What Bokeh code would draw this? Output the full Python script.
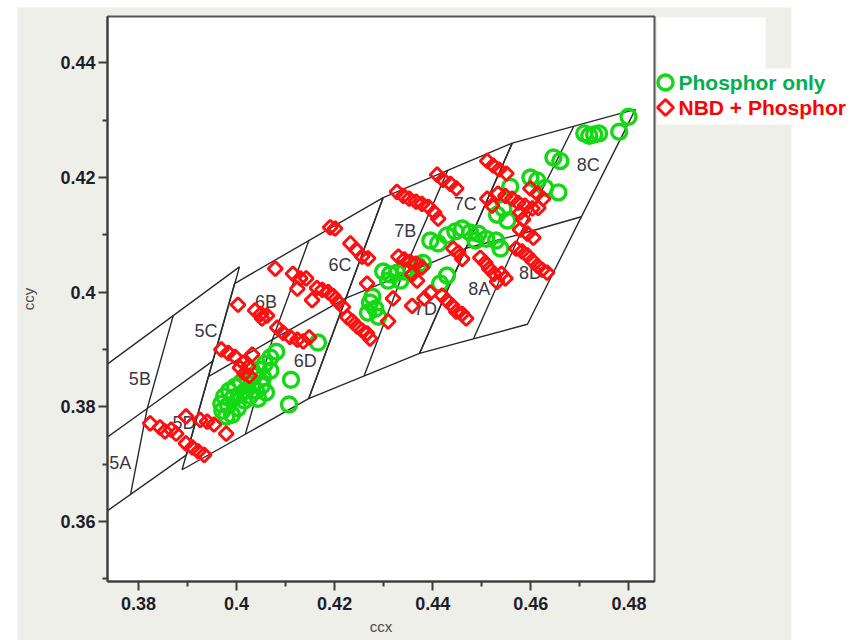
import numpy as np
from bokeh.plotting import figure
from bokeh.models import FixedTicker
from bokeh.core.properties import value
from bokeh.embed import file_html
from bokeh.resources import INLINE

# ---------------- data ----------------
X_TICKS = [0.38, 0.40, 0.42, 0.44, 0.46, 0.48]
X_TICK_LABELS = ["0.38", "0.4", "0.42", "0.44", "0.46", "0.48"]
X_MINOR = [0.37, 0.39, 0.41, 0.43, 0.45, 0.47, 0.49]
Y_TICKS = [0.36, 0.38, 0.40, 0.42, 0.44]
Y_TICK_LABELS = ["0.36", "0.38", "0.4", "0.42", "0.44"]
Y_MINOR = [0.35, 0.37, 0.39, 0.41, 0.43, 0.45]

# ANSI quadrangles (4000K, 3500K, 3000K, 2700K) -> bins 5, 6, 7, 8
QUAD_TL = [(0.3736, 0.3874), (0.3996, 0.4015), (0.4299, 0.4165), (0.4562, 0.4260)]
QUAD_TR = [(0.4006, 0.4044), (0.4299, 0.4165), (0.4562, 0.4260), (0.4813, 0.4319)]
QUAD_BR = [(0.3898, 0.3716), (0.4147, 0.3814), (0.4373, 0.3893), (0.4593, 0.3944)]
QUAD_BL = [(0.3670, 0.3578), (0.3889, 0.3690), (0.4147, 0.3814), (0.4373, 0.3893)]
QUAD_C = [(0.3818, 0.3797), (0.4073, 0.3917), (0.4338, 0.4030), (0.4578, 0.4101)]

BIN_LABELS = ["5A", "5B", "5C", "5D", "6B", "6C", "6D", "7B", "7C", "7D", "8A", "8C", "8D"]
BIN_LABEL_X = [0.3763, 0.3803, 0.3938, 0.3893, 0.4060, 0.4211, 0.4140, 0.4344, 0.4466, 0.4385, 0.4495, 0.4717, 0.4599]
BIN_LABEL_Y = [0.3701, 0.3849, 0.3933, 0.3772, 0.3982, 0.4048, 0.3879, 0.4107, 0.4153, 0.3971, 0.4006, 0.4221, 0.4034]

GREEN_X = [0.4081, 0.4069, 0.4058, 0.4046, 0.4034, 0.4022, 0.4009, 0.3997, 0.3985, 0.3975,
           0.3969, 0.3971, 0.3979, 0.3991, 0.4003, 0.4016, 0.4028, 0.4040, 0.4052, 0.4060,
           0.4044, 0.4018, 0.3993, 0.3983, 0.4007, 0.4032, 0.4054, 0.4069, 0.4111, 0.4107,
           0.4166, 0.4272, 0.4283, 0.4268, 0.4289, 0.4277, 0.4299, 0.4313, 0.4327, 0.4342,
           0.4356, 0.4370, 0.4309, 0.4334, 0.4395, 0.4411, 0.4429, 0.4446, 0.4460, 0.4476,
           0.4493, 0.4509, 0.4529, 0.4538, 0.4415, 0.4429, 0.4380, 0.4531, 0.4544, 0.4552,
           0.4558, 0.4599, 0.4613, 0.4629, 0.4646, 0.4660, 0.4656, 0.4709, 0.4719, 0.4729,
           0.4739, 0.4780, 0.4799, 0.4487]
GREEN_Y = [0.3896, 0.3886, 0.3875, 0.3865, 0.3854, 0.3849, 0.3842, 0.3835, 0.3828, 0.3818,
           0.3805, 0.3793, 0.3783, 0.3786, 0.3798, 0.3811, 0.3819, 0.3828, 0.3837, 0.3825,
           0.3814, 0.3828, 0.3816, 0.3802, 0.3821, 0.3839, 0.3851, 0.3863, 0.3847, 0.3804,
           0.3912, 0.3982, 0.3971, 0.3964, 0.3957, 0.3992, 0.4036, 0.4031, 0.4034, 0.4036,
           0.4041, 0.4046, 0.4020, 0.4020, 0.4090, 0.4085, 0.4099, 0.4106, 0.4111, 0.4104,
           0.4102, 0.4093, 0.4090, 0.4076, 0.4015, 0.4029, 0.4051, 0.4135, 0.4146, 0.4125,
           0.4184, 0.4200, 0.4195, 0.4182, 0.4235, 0.4229, 0.4174, 0.4277, 0.4273, 0.4275,
           0.4277, 0.4280, 0.4306, 0.4090]

RED_X = [0.3824, 0.3844, 0.3854, 0.3867, 0.3877, 0.3897, 0.3926, 0.3940, 0.3954, 0.3979,
         0.3897, 0.3910, 0.3922, 0.3934,
         0.3969, 0.3983, 0.3997, 0.4013, 0.4024, 0.4032, 0.4007, 0.4016, 0.4026,
         0.4003, 0.4038, 0.4050, 0.4062, 0.4052, 0.4083, 0.4095, 0.4109, 0.4124, 0.4136, 0.4148,
         0.4079, 0.4115, 0.4130, 0.4142, 0.4124,
         0.4191, 0.4201, 0.4232, 0.4244, 0.4256, 0.4268,
         0.4164, 0.4175, 0.4187, 0.4197, 0.4154, 0.4207, 0.4217, 0.4226, 0.4236, 0.4246,
         0.4256, 0.4266, 0.4272, 0.4266, 0.4309, 0.4319,
         0.4327, 0.4340, 0.4352, 0.4366, 0.4378, 0.4391, 0.4403, 0.4411, 0.4409, 0.4421,
         0.4436, 0.4448,
         0.4330, 0.4342, 0.4354, 0.4366, 0.4378, 0.4358, 0.4368,
         0.4358, 0.4383, 0.4395, 0.4419, 0.4429, 0.4440, 0.4448, 0.4460, 0.4468,
         0.4442, 0.4452, 0.4460,
         0.4497, 0.4507, 0.4515, 0.4525, 0.4540, 0.4548, 0.4531,
         0.4570, 0.4582, 0.4593, 0.4603, 0.4613, 0.4623, 0.4633,
         0.4511, 0.4523, 0.4535, 0.4550,
         0.4511, 0.4521, 0.4533, 0.4548, 0.4562, 0.4574, 0.4588, 0.4603, 0.4599, 0.4613,
         0.4625, 0.4615, 0.4578, 0.4584, 0.4578, 0.4593, 0.4605]
RED_Y = [0.3771, 0.3764, 0.3757, 0.3760, 0.3753, 0.3783, 0.3777, 0.3774, 0.3769, 0.3753,
         0.3736, 0.3729, 0.3722, 0.3716,
         0.3900, 0.3894, 0.3887, 0.3877, 0.3870, 0.3891, 0.3868, 0.3858, 0.3854,
         0.3978, 0.3968, 0.3962, 0.3959, 0.3954, 0.3938, 0.3929, 0.3922, 0.3917, 0.3914, 0.3921,
         0.4041, 0.4032, 0.4024, 0.4024, 0.4006,
         0.4113, 0.4111, 0.4085, 0.4074, 0.4062, 0.4059,
         0.4007, 0.4004, 0.4000, 0.3993, 0.3986, 0.3983, 0.3974, 0.3956, 0.3949, 0.3940,
         0.3933, 0.3928, 0.3919, 0.4015, 0.3949, 0.3989,
         0.4175, 0.4168, 0.4163, 0.4158, 0.4154, 0.4149, 0.4139, 0.4128, 0.4205, 0.4196,
         0.4189, 0.4181,
         0.4062, 0.4057, 0.4053, 0.4050, 0.4043, 0.4031, 0.4020,
         0.3976, 0.3989, 0.3999, 0.3994, 0.3985, 0.3976, 0.3966, 0.3962, 0.3954,
         0.4076, 0.4069, 0.4058,
         0.4060, 0.4051, 0.4041, 0.4032, 0.4032, 0.4024, 0.4018,
         0.4076, 0.4071, 0.4064, 0.4055, 0.4046, 0.4039, 0.4034,
         0.4229, 0.4221, 0.4214, 0.4207,
         0.4163, 0.4151, 0.4172, 0.4168, 0.4163, 0.4156, 0.4151, 0.4146, 0.4181, 0.4172,
         0.4163, 0.4147, 0.4139, 0.4127, 0.4109, 0.4102, 0.4095]

SERIES_NAMES = ["Phosphor only", "NBD + Phosphor"]

# ---------------- layout constants ----------------
X0, X1 = 0.3737, 0.4852
Y0, Y1 = 0.3495, 0.4481
FRAME_W, FRAME_H = 547, 565
FRAME_LEFT, FRAME_TOP = 107, 16
CANVAS_W, CANVAS_H = 859, 640


def px2x(px):
    return X0 + (px - FRAME_LEFT) * (X1 - X0) / FRAME_W


def py2y(py):
    return Y1 - (py - FRAME_TOP) * (Y1 - Y0) / FRAME_H


GRAY = "#efefea"

p = figure(width=CANVAS_W, height=CANVAS_H, x_range=(X0, X1), y_range=(Y0, Y1),
           output_backend="svg", toolbar_location=None,
           min_border_left=FRAME_LEFT, min_border_right=CANVAS_W - FRAME_LEFT - FRAME_W,
           min_border_top=FRAME_TOP, min_border_bottom=CANVAS_H - FRAME_TOP - FRAME_H,
           background_fill_color="white", border_fill_color=GRAY,
           x_axis_label="ccx", y_axis_label="ccy")
p.xgrid.visible = False
p.ygrid.visible = False
p.outline_line_color = "#555555"
p.outline_line_width = 2

p.xaxis.ticker = FixedTicker(ticks=X_TICKS, minor_ticks=X_MINOR)
p.yaxis.ticker = FixedTicker(ticks=Y_TICKS, minor_ticks=Y_MINOR)
p.xaxis.major_label_overrides = dict(zip(X_TICKS, X_TICK_LABELS))
p.yaxis.major_label_overrides = dict(zip(Y_TICKS, Y_TICK_LABELS))

for ax in (p.xaxis[0], p.yaxis[0]):
    ax.axis_line_color = "#3d3d3d"
    ax.axis_line_width = 2
    ax.major_tick_line_color = "#3d3d3d"
    ax.major_tick_line_width = 2
    ax.major_tick_out = 9
    ax.major_tick_in = 0
    ax.minor_tick_line_color = "#3d3d3d"
    ax.minor_tick_line_width = 2
    ax.minor_tick_out = 5
    ax.minor_tick_in = 0
    ax.major_label_text_font = "Liberation Sans"
    ax.major_label_text_font_style = "bold"
    ax.major_label_text_font_size = "18px"
    ax.major_label_text_color = "#1e1e2a"
    ax.axis_label_text_font = "Liberation Sans"
    ax.axis_label_text_font_style = "normal"
    ax.axis_label_text_font_size = "15px"
    ax.axis_label_text_color = "#4a4a4a"
p.xaxis.major_label_standoff = 6
p.yaxis.major_label_standoff = 3
p.xaxis.axis_label_standoff = 5
p.yaxis.axis_label_standoff = 20


# ---------------- bin grid ----------------
def mid(a, b):
    return ((a[0] + b[0]) / 2, (a[1] + b[1]) / 2)


outline_xs, outline_ys, div_xs, div_ys = [], [], [], []
for tl, tr, br, bl, c in zip(QUAD_TL, QUAD_TR, QUAD_BR, QUAD_BL, QUAD_C):
    pts = [tl, tr, br, bl, tl]
    outline_xs.append([q[0] for q in pts])
    outline_ys.append([q[1] for q in pts])
    for a, b in ((mid(tl, tr), mid(br, bl)), (mid(bl, tl), mid(tr, br))):
        div_xs.append([a[0], c[0], b[0]])
        div_ys.append([a[1], c[1], b[1]])

p.multi_line(outline_xs, outline_ys, line_color="#2a2a2a", line_width=1.4)
p.multi_line(div_xs, div_ys, line_color="#2a2a2a", line_width=1.4)

p.text(x=BIN_LABEL_X, y=BIN_LABEL_Y, text=BIN_LABELS,
       text_font=value("Liberation Sans"), text_font_size=value("18px"),
       text_color="#383848", text_align="center", text_baseline="middle")

# ---------------- data points ----------------
GREEN = "#14d814"
RED = "#ff1010"
p.scatter(GREEN_X, GREEN_Y, marker="circle", size=15, fill_color=None,
          line_color=GREEN, line_width=3.4)
p.scatter(RED_X, RED_Y, marker="square", angle=np.pi / 4, size=10, fill_color=None,
          line_color=RED, line_width=2.9)

# ---------------- page background pieces & legend (overlay level) ----------------
white_l = [px2x(657), px2x(657), px2x(791), px2x(-10), px2x(-10)]
white_r = [px2x(765), px2x(791), px2x(900), px2x(17), px2x(900)]
white_t = [py2y(17), py2y(68), py2y(-10), py2y(-10), py2y(-10)]
white_b = [py2y(68), py2y(124), py2y(700), py2y(700), py2y(7)]
p.quad(left=white_l, right=white_r, top=white_t, bottom=white_b,
       fill_color="white", line_alpha=0, level="overlay")

leg_rows = [82, 107]
p.text(x=[px2x(678)] * 2, y=[py2y(v) for v in leg_rows], text=SERIES_NAMES,
       text_color=["#00b050", "#ff0000"], text_font=value("Liberation Sans"),
       text_font_style="bold", text_font_size=value("21px"),
       text_baseline="middle", text_align="left", level="overlay")

p.scatter([px2x(665)], [py2y(leg_rows[0])], marker="circle", size=15, fill_color=None,
          line_color=GREEN, line_width=3.4, level="overlay")
dia_x = [px2x(665), px2x(673), px2x(665), px2x(657)]
dia_y = [py2y(leg_rows[1] - 8), py2y(leg_rows[1]), py2y(leg_rows[1] + 8), py2y(leg_rows[1])]
p.patch(dia_x, dia_y, fill_color=None, line_color=RED, line_width=3, level="overlay")

open("out.html", "w").write(file_html(p, INLINE))
